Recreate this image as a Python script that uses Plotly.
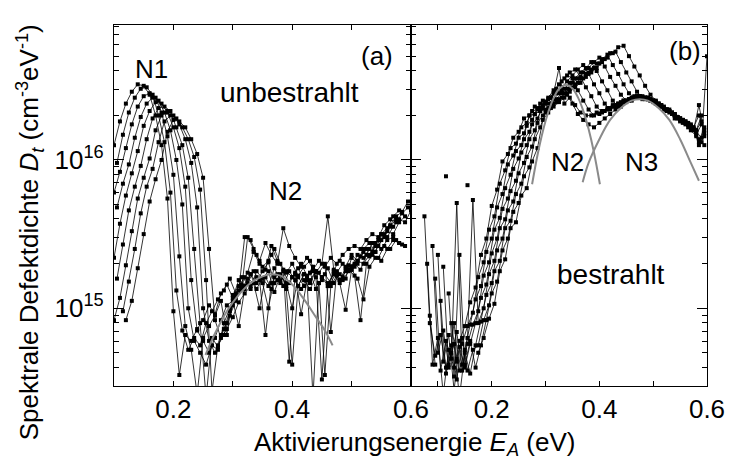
import plotly.graph_objects as go

# ---------------- data (log10 of D_t in cm^-3 eV^-1) ----------------
E_A1 = [0.10,0.11,0.12,0.13,0.14,0.15,0.16,0.17,0.18,0.19,0.20,0.21,0.22,0.23,0.24,0.25,0.26,0.27,0.28,0.29,
        0.30,0.31,0.32,0.33,0.34,0.35,0.36,0.37,0.38,0.39,0.40,0.41,0.42,0.43,0.44,0.45,0.46,0.47,0.48,0.49,
        0.50,0.51,0.52,0.53,0.54,0.55,0.56,0.57,0.58,0.59,0.60]
E_A2 = [0.105,0.115,0.125,0.135,0.145,0.155,0.165,0.175,0.185,0.195,0.205,0.215,0.225,0.235,0.245,0.255,0.265,0.275,0.285,0.295,
        0.305,0.315,0.325,0.335,0.345,0.355,0.365,0.375,0.385,0.395,0.405,0.415,0.425,0.435,0.445,0.455,0.465,0.475,0.485,0.495,
        0.505,0.515,0.525,0.535,0.545,0.555,0.565,0.575,0.585,0.595]
E_B1 = [0.05,0.06,0.07,0.08,0.09] + [0.10,0.11,0.12,0.13,0.14,0.15,0.16,0.17,0.18,0.19,0.20,0.21,0.22,0.23,0.24,0.25,0.26,0.27,0.28,0.29,
        0.30,0.31,0.32,0.33,0.34,0.35,0.36,0.37,0.38,0.39,0.40,0.41,0.42,0.43,0.44,0.45,0.46,0.47,0.48,0.49,
        0.50,0.51,0.52,0.53,0.54,0.55,0.56,0.57,0.58,0.59,0.60]
E_B2 = [0.055,0.065,0.075,0.085,0.095] + [0.105,0.115,0.125,0.135,0.145,0.155,0.165,0.175,0.185,0.195,0.205,0.215,0.225,0.235,0.245,0.255,0.265,0.275,0.285,0.295,
        0.305,0.315,0.325,0.335,0.345,0.355,0.365,0.375,0.385,0.395,0.405,0.415,0.425,0.435,0.445,0.455,0.465,0.475,0.485,0.495,
        0.505,0.515,0.525,0.535,0.545,0.555,0.565,0.575,0.585,0.595]

# panel (a) unbestrahlt
a0 = [16.10,16.26,16.38,16.46,16.51,16.50,16.44,16.30,16.10,15.74,
      14.98,14.55,14.82,14.78,14.86,14.92,15.02,14.96,15.10,15.16,
      15.07,15.19,15.15,15.23,15.13,15.20,15.25,15.11,15.22,15.17,
      15.00,15.21,15.15,15.24,15.13,15.19,15.27,15.17,15.23,15.20,
      15.34,15.30,15.38,15.35,15.44,15.50,15.48,15.55,15.60,15.58,15.66]
a1 = [15.98,16.17,16.32,16.42,16.48,16.49,16.44,16.30,16.12,15.78,
      15.12,14.85,14.72,14.80,14.75,14.90,14.98,15.06,15.12,15.20,
      15.10,15.21,15.17,15.25,15.19,14.82,15.17,15.23,15.15,15.25,
      15.19,15.13,15.21,15.25,15.17,14.55,15.15,15.22,15.19,15.25,
      15.28,15.35,15.40,15.38,15.46,15.50,15.56,15.62,15.65,15.72]
a2 = [15.78,15.92,16.08,16.24,16.36,16.43,16.45,16.42,16.32,16.16,
      15.90,15.35,14.88,14.72,14.42,14.80,14.88,14.95,15.05,14.82,
      15.09,15.15,15.21,15.13,15.25,15.20,15.15,15.27,15.19,15.13,
      14.62,15.15,15.23,15.17,15.25,15.21,15.15,15.25,15.19,15.27,
      15.28,15.36,15.34,15.40,15.38,15.46,15.52,15.50,15.58,15.62,None]
a3 = [15.68,15.84,15.97,16.15,16.29,16.38,16.42,16.40,16.32,16.20,
      16.00,15.70,15.00,14.78,14.70,14.62,14.75,14.72,14.90,15.00,
      15.07,15.13,15.20,15.17,15.00,15.21,15.13,15.19,15.25,15.17,
      15.23,14.96,15.19,14.40,15.17,15.23,15.17,15.25,15.21,15.29,
      15.30,15.26,15.36,15.44,15.42,15.48,15.55,15.60,None,None]
a4 = [15.34,15.57,15.76,15.91,16.06,16.23,16.33,16.39,16.38,16.32,
      16.22,16.08,15.82,15.19,14.85,14.78,14.70,14.80,14.92,15.02,
      15.05,14.88,15.13,15.23,15.17,15.25,15.31,15.17,15.23,15.15,
      15.21,15.27,15.19,15.13,15.21,14.52,15.15,15.23,15.17,14.99,
      15.26,15.32,15.30,15.36,15.42,15.40,15.46,15.48,15.44,15.42,None]
a5 = [15.20,15.43,15.66,15.82,15.96,16.14,16.28,16.35,16.36,16.33,
      16.22,16.10,15.88,15.40,14.90,14.40,14.80,14.74,14.86,14.98,
      15.08,15.16,15.24,15.38,15.30,15.26,15.42,15.32,15.26,14.64,
      15.24,15.30,15.22,15.28,15.24,15.30,14.84,15.24,15.30,15.26,
      15.22,14.92,15.30,15.36,15.34,15.42,15.40,15.46,15.43,None]
a6 = [14.92,15.07,15.29,15.52,15.74,15.88,16.01,16.20,16.30,16.33,
      16.30,16.24,16.14,15.98,15.68,15.00,14.78,14.70,14.82,14.90,
      15.02,15.12,15.48,15.46,15.36,15.28,15.32,15.40,15.30,15.24,
      15.30,15.22,15.28,15.32,15.24,15.30,15.62,15.26,15.32,15.28,
      15.36,15.32,15.40,15.44,15.38,15.50,15.54,15.62,15.66,None,None]
a7 = [None,14.98,15.18,15.40,15.64,15.82,15.94,16.12,16.26,16.30,
      16.28,16.22,16.14,16.02,15.80,15.19,14.44,14.75,14.82,14.95,
      15.05,15.14,15.48,15.40,15.32,15.44,15.36,15.30,15.54,15.42,
      15.34,15.28,15.34,15.26,15.32,15.28,15.34,15.30,15.36,15.40,
      15.42,15.40,15.46,15.50,15.48,15.56,15.60,15.58,15.64,15.68]
a8 = [None,None,14.92,15.05,15.27,15.50,15.72,15.87,16.00,16.19,
      16.27,16.26,16.22,16.14,16.04,15.88,15.40,14.92,14.80,14.86,
      14.94,15.04,15.10,15.15,15.21,15.17,15.00,15.21,15.17,15.25,
      15.21,15.15,15.23,15.19,15.25,15.21,15.17,15.23,15.19,15.25,
      15.26,15.20,15.06,15.28,15.34,15.32,15.40,15.46,15.44,None,None]

# panel (b) bestrahlt
b0 = [None,None,None,15.30,14.62,
      14.80,14.42,14.72,14.60,14.78,14.88,15.04,15.14,15.36,15.47,
      15.69,15.80,15.99,16.04,16.15,16.19,16.28,16.30,16.36,16.35,
      16.39,16.42,16.46,16.47,16.44,16.38,16.31,16.27,16.24,16.22,
      16.25,16.28,16.31,16.34,16.36,16.39,16.40,16.42,16.41,16.42,
      16.39,16.37,16.34,16.32,16.28,16.26,16.24,16.20,16.16,16.12,16.70]
b1 = [None,None,15.62,14.90,14.68,
      14.82,14.60,14.75,14.52,14.76,14.88,14.97,15.21,15.31,15.53,
      15.62,15.84,15.93,16.08,16.11,16.22,16.25,16.33,16.34,16.40,
      16.41,16.45,16.62,16.38,16.42,16.37,16.32,16.30,16.30,16.32,
      16.33,16.35,16.37,16.38,16.40,16.41,16.43,16.42,16.42,16.40,
      16.38,16.36,16.33,16.31,16.28,16.25,16.22,16.20,16.37,16.18]
b2 = [None,None,None,None,15.42,
      14.70,14.85,14.62,14.90,14.58,14.72,14.89,15.06,15.15,15.38,
      15.47,15.68,15.77,15.97,16.03,16.15,16.18,16.30,16.31,16.38,
      16.39,16.42,16.48,16.53,16.57,16.55,16.47,16.40,16.34,16.30,
      16.31,16.33,16.35,16.37,16.39,16.40,16.42,16.43,16.42,16.41,
      16.40,16.38,16.36,16.34,16.31,16.28,16.26,16.24,16.20,16.30,None]
b3 = [None,None,None,None,15.20,
      14.58,14.78,14.66,15.71,14.62,14.76,14.89,14.98,15.22,15.31,
      15.53,15.61,15.81,15.90,16.06,16.10,16.23,16.27,16.35,16.37,
      16.42,16.47,16.51,16.55,16.59,16.61,16.56,16.49,16.43,16.36,
      16.32,16.34,16.36,16.38,16.40,16.41,16.42,16.43,16.41,16.40,
      16.38,16.36,16.34,16.31,16.29,16.27,16.24,16.22,16.12,16.22]
b4 = [None,None,None,None,None,
      15.36,14.64,14.82,14.45,14.74,14.60,14.76,14.90,15.07,15.16,
      15.37,15.47,15.67,15.74,15.94,16.01,16.14,16.19,16.31,16.33,
      16.38,16.42,16.45,16.49,16.53,16.57,16.61,16.64,16.58,16.51,
      16.45,16.38,16.34,16.36,16.38,16.40,16.41,16.42,16.43,16.41,
      16.40,16.37,16.35,16.33,16.30,16.28,16.25,16.23,16.19,16.15,None]
b5 = [None,None,None,None,None,
      15.05,14.56,14.70,14.84,14.58,14.80,15.73,14.90,15.00,15.23,
      15.32,15.54,15.60,15.79,15.86,16.05,16.10,16.24,16.28,16.35,
      16.38,16.41,16.45,16.48,16.52,16.55,16.59,16.62,16.66,16.60,
      16.53,16.47,16.40,16.36,16.39,16.40,16.42,16.43,16.42,16.41,
      16.39,16.37,16.34,16.32,16.29,16.27,16.25,16.21,16.10,16.16]
b6 = [None,None,None,None,None,
      None,15.28,14.60,14.76,14.40,14.70,14.56,14.75,14.91,15.09,
      15.17,15.39,15.47,15.66,15.72,15.91,15.98,16.14,16.20,16.33,
      16.34,16.38,16.41,16.45,16.48,16.52,16.55,16.59,16.62,16.66,
      16.69,16.63,16.56,16.50,16.44,16.40,16.41,16.43,16.42,16.42,
      16.40,16.38,16.35,16.33,16.31,16.28,16.26,16.23,16.20,16.26,None]
b7 = [None,None,None,14.95,14.62,
      None,15.89,None,14.66,14.80,14.58,14.72,14.75,14.92,15.02,
      15.25,15.32,15.54,15.59,15.77,15.84,16.02,16.09,16.25,16.30,
      16.35,16.38,16.41,16.45,16.48,16.51,16.55,16.58,16.61,16.65,
      16.68,16.71,16.64,16.58,16.51,16.45,16.42,16.43,16.42,16.41,
      16.39,16.36,16.34,16.31,16.29,16.26,16.24,16.22,16.30,16.20]
b8 = [None,None,None,None,None,
      None,None,15.10,14.54,15.36,14.62,14.78,14.60,14.75,14.92,
      15.10,15.18,15.39,15.47,15.65,15.71,15.89,15.95,16.14,16.22,
      16.32,16.35,16.39,16.42,16.45,16.49,16.52,16.55,16.59,16.62,
      16.65,16.68,16.72,16.73,16.66,16.59,16.53,16.46,16.42,16.41,
      16.40,16.38,16.35,16.33,16.30,16.27,16.25,16.22,16.17,16.24,None]
b9 = [None,None,None,None,None,
      None,None,14.90,14.64,None,15.83,None,14.70,14.80,14.93,
      15.03,15.25,15.33,15.54,15.58,15.76,15.81,15.99,16.08,16.27,
      16.32,16.36,16.39,16.42,16.46,16.49,16.52,16.56,16.59,16.62,
      16.66,16.69,16.72,16.76,16.77,16.70,16.63,16.57,16.50,16.44,
      16.40,16.37,16.34,16.32,16.29,16.27,16.24,16.21,16.14,16.10]

# fitted Gaussian components (grey)
fit_a_E = [0.254,0.27,0.29,0.31,0.33,0.35,0.365,0.38,0.40,0.42,0.44,0.455,0.468]
fit_a_N2 = [14.685,14.83,14.98,15.09,15.17,15.215,15.23,15.22,15.16,15.06,14.94,14.85,14.75]
fit_b_E2 = [0.275,0.285,0.295,0.305,0.315,0.325,0.338,0.350,0.360,0.370,0.380,0.390,0.401]
fit_b_N2 = [15.836,16.032,16.194,16.322,16.417,16.478,16.506,16.482,16.424,16.333,16.208,16.05,15.836]
fit_b_E3 = [0.369,0.38,0.40,0.42,0.44,0.46,0.475,0.49,0.51,0.53,0.55,0.57,0.585]
fit_b_N3 = [15.85,15.98,16.14,16.27,16.35,16.40,16.41,16.40,16.35,16.27,16.14,15.98,15.86]

# ---------------- figure ----------------
FONT = "Liberation Sans, Arial, Helvetica, sans-serif"

def lin(vals):
    return [None if v is None else 10 ** v for v in vals]

fig = go.Figure()

series_a = [(E_A1, a0), (E_A2, a1), (E_A1, a2), (E_A2, a3), (E_A1, a4),
            (E_A2, a5), (E_A1, a6), (E_A2, a7), (E_A1, a8)]
series_b = [(E_B1, b0), (E_B2, b1), (E_B1, b2), (E_B2, b3), (E_B1, b4),
            (E_B2, b5), (E_B1, b6), (E_B2, b7), (E_B1, b8), (E_B2, b9)]

mk = dict(symbol="square", size=4, color="black")
ln = dict(color="black", width=0.8)

for ex, vals in series_a:
    fig.add_trace(go.Scatter(x=ex, y=lin(vals), mode="lines+markers", marker=mk, line=ln,
                             showlegend=False, xaxis="x", yaxis="y"))
for ex, vals in series_b:
    fig.add_trace(go.Scatter(x=ex, y=lin(vals), mode="lines+markers", marker=mk, line=ln,
                             showlegend=False, xaxis="x2", yaxis="y2"))

grey = dict(color="#8a8a8a", width=2, shape="spline")
fig.add_trace(go.Scatter(x=fit_a_E, y=lin(fit_a_N2), mode="lines", line=grey, showlegend=False,
                         xaxis="x", yaxis="y"))
fig.add_trace(go.Scatter(x=fit_b_E2, y=lin(fit_b_N2), mode="lines", line=grey, showlegend=False,
                         xaxis="x2", yaxis="y2"))
fig.add_trace(go.Scatter(x=fit_b_E3, y=lin(fit_b_N3), mode="lines", line=grey, showlegend=False,
                         xaxis="x2", yaxis="y2"))

split = (416 - 114) / 603.0
ymajor = [1e15, 1e16]
yminor = [4e14, 5e14, 6e14, 7e14, 8e14, 9e14,
          2e15, 3e15, 4e15, 5e15, 6e15, 7e15, 8e15, 9e15,
          2e16, 3e16, 4e16, 5e16, 6e16, 7e16, 8e16]

common_x = dict(tickmode="array", tickvals=[0.2, 0.4, 0.6], ticktext=["0.2", "0.4", "0.6"],
                ticks="inside", ticklen=5, tickwidth=1.2, tickcolor="black",
                minor=dict(tickmode="array", tickvals=[0.1, 0.3, 0.5], ticks="inside", ticklen=5,
                           tickwidth=1.2, tickcolor="black"),
                showline=True, linecolor="black", linewidth=1.2, mirror="ticks",
                showgrid=False, zeroline=False, ticklabelstandoff=0,
                tickfont=dict(family=FONT, size=26, color="black"))
common_y = dict(type="log", range=[14.476, 16.91], tickmode="array", tickvals=ymajor,
                ticktext=["10<sup>15</sup>", "10<sup>16</sup>"],
                ticks="inside", ticklen=10, tickwidth=1.2, tickcolor="black",
                minor=dict(tickmode="array", tickvals=yminor, ticks="inside", ticklen=5,
                           tickwidth=1.2, tickcolor="black"),
                showline=True, linecolor="black", linewidth=1.2, mirror="ticks",
                showgrid=False, zeroline=False, ticklabelstandoff=4,
                tickfont=dict(family=FONT, size=26, color="black"))

fig.update_layout(
    width=737, height=470,
    margin=dict(l=114, r=20, t=25, b=84),
    paper_bgcolor="white", plot_bgcolor="white",
    xaxis=dict(domain=[0, split], range=[0.1, 0.6], anchor="y", **common_x),
    xaxis2=dict(domain=[split, 1], range=[0.05, 0.6], anchor="y2", **common_x),
    yaxis=dict(anchor="x", **common_y),
    yaxis2=dict(anchor="x2", matches="y", showticklabels=False, **common_y),
    font=dict(family=FONT, size=26, color="black"),
)

def note(text, x, y, xr, yr, size=26):
    fig.add_annotation(text=text, x=x, y=y, xref=xr, yref=yr, showarrow=False,
                       xanchor="center", yanchor="middle",
                       font=dict(family=FONT, size=size, color="black"))

note("N1", 0.163, 16.614, "x", "y")
note("unbestrahlt", 0.396, 16.452, "x", "y", 28)
note("N2", 0.388, 15.79, "x", "y")
note("(a)", 0.5427, 16.70, "x", "y")
note("(b)", 0.56, 16.735, "x2", "y2")
note("N2", 0.3407, 15.983, "x2", "y2")
note("N3", 0.4787, 15.983, "x2", "y2")
note("bestrahlt", 0.4215, 15.231, "x2", "y2", 28)

fig.add_annotation(text="Aktivierungsenergie <i>E<sub>A</sub></i> (eV)", x=0.5075, y=-0.16,
                   xref="paper", yref="paper", showarrow=False, xanchor="center", yanchor="middle",
                   font=dict(family=FONT, size=26, color="black"))
fig.add_annotation(text="Spektrale Defektdichte <i>D<sub>t</sub></i> (cm<sup>-3</sup>eV<sup>-1</sup>)",
                   x=-0.1426, y=0.427, xref="paper", yref="paper", showarrow=False, textangle=-90,
                   xanchor="center", yanchor="middle",
                   font=dict(family=FONT, size=26, color="black"))

fig.write_html("out.html")
